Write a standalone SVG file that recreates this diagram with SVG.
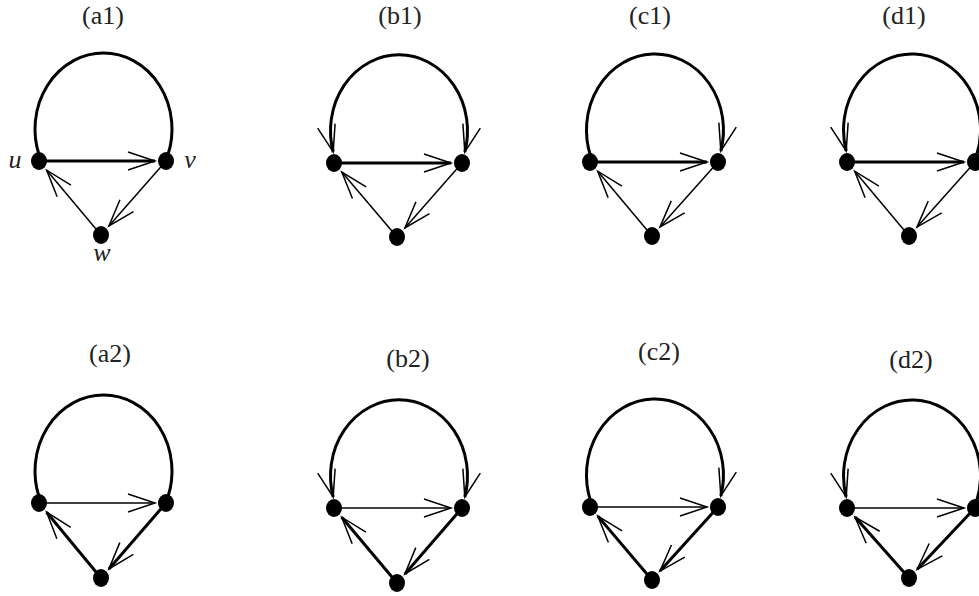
<svg xmlns="http://www.w3.org/2000/svg" width="979" height="596" viewBox="0 0 979 596">
<style>
.title{font-family:"Liberation Serif","DejaVu Serif",serif;font-size:26px;fill:#222;text-anchor:middle}
.lbl{font-family:"Liberation Serif","DejaVu Serif",serif;font-size:26px;font-style:italic;fill:#222;text-anchor:middle}
.thick{stroke:#000;stroke-width:3;fill:none}
.thin{stroke:#000;stroke-width:1.5;fill:none}
.node{fill:#000}
.ah{marker-end:url(#arr)}
</style>
<defs>
<marker id="arr" markerUnits="userSpaceOnUse" orient="auto" refX="0" refY="0" markerWidth="40" markerHeight="40" overflow="visible">
<path d="M-27,-9 L0,0 L-27,9" fill="none" stroke="#000" stroke-width="1.5"/>
</marker>
<marker id="arrS" markerUnits="userSpaceOnUse" orient="auto" refX="0" refY="0" markerWidth="40" markerHeight="40" overflow="visible">
<path d="M27,-9 L0,0 L27,9" fill="none" stroke="#000" stroke-width="1.5"/>
</marker>
</defs>

<!-- titles -->
<text class="title" x="103" y="24">(a1)</text>
<text class="title" x="400" y="24">(b1)</text>
<text class="title" x="650" y="24">(c1)</text>
<text class="title" x="904" y="24">(d1)</text>
<text class="title" x="110" y="362">(a2)</text>
<text class="title" x="408" y="367">(b2)</text>
<text class="title" x="659" y="360">(c2)</text>
<text class="title" x="911" y="368">(d2)</text>

<g id="connectors">
<!-- a1 -->
<path class="thick" d="M39.1,155 A68.5,76 0 1 1 167.9,155"/>
<line class="thick ah" x1="39" y1="161" x2="155" y2="161"/>
<line class="thin ah" x1="166" y1="161" x2="108.9" y2="226"/>
<line class="thin ah" x1="101" y1="235" x2="46.7" y2="170.2"/>
<!-- b1 -->
<path class="thick" d="M333.2,152 A68.5,76 0 1 1 464.8,152" marker-start="url(#arrS)" marker-end="url(#arr)"/>
<line class="thick ah" x1="334" y1="163" x2="451" y2="163"/>
<line class="thin ah" x1="462" y1="163" x2="404.9" y2="228"/>
<line class="thin ah" x1="397" y1="237" x2="341.8" y2="172.1"/>
<!-- c1 -->
<path class="thick" d="M590.6,156 A68.5,76 0 1 1 720.8,151" marker-end="url(#arr)"/>
<line class="thick ah" x1="590" y1="162" x2="707" y2="162"/>
<line class="thin ah" x1="718" y1="162" x2="660" y2="227"/>
<line class="thin ah" x1="652" y1="236" x2="597.7" y2="171.2"/>
<!-- d1 -->
<path class="thick" d="M846.2,151 A68.5,76 0 1 1 976.4,156" marker-start="url(#arrS)"/>
<line class="thick ah" x1="847" y1="162" x2="964" y2="162"/>
<line class="thin ah" x1="975" y1="162" x2="917" y2="227.1"/>
<line class="thin ah" x1="909" y1="236" x2="854.7" y2="171.2"/>
<!-- a2 -->
<path class="thick" d="M39.1,497 A68.5,76 0 1 1 167.9,497"/>
<line class="thin ah" x1="39" y1="503" x2="155" y2="503"/>
<line class="thick ah" x1="166" y1="503" x2="108.9" y2="568.9"/>
<line class="thick ah" x1="101" y1="578" x2="46.6" y2="512.2"/>
<!-- b2 -->
<path class="thick" d="M333.2,497 A68.5,76 0 1 1 464.8,497" marker-start="url(#arrS)" marker-end="url(#arr)"/>
<line class="thin ah" x1="334" y1="508" x2="451" y2="508"/>
<line class="thick ah" x1="462" y1="508" x2="404.9" y2="573.9"/>
<line class="thick ah" x1="397" y1="583" x2="341.7" y2="517.2"/>
<!-- c2 -->
<path class="thick" d="M590.6,501 A68.5,76 0 1 1 720.8,496" marker-end="url(#arr)"/>
<line class="thin ah" x1="590" y1="507" x2="707" y2="507"/>
<line class="thick ah" x1="718" y1="507" x2="660" y2="571.1"/>
<line class="thick ah" x1="652" y1="580" x2="597.8" y2="516.1"/>
<!-- d2 -->
<path class="thick" d="M846.2,497 A68.5,76 0 1 1 976.4,502" marker-start="url(#arrS)"/>
<line class="thin ah" x1="847" y1="508" x2="964" y2="508"/>
<line class="thick ah" x1="975" y1="508" x2="917.2" y2="569.3"/>
<line class="thick ah" x1="909" y1="578" x2="855" y2="517"/>
</g>

<!-- nodes -->
<g id="a1-u"><ellipse class="node" cx="39" cy="161" rx="8" ry="9"/><text class="lbl" x="15" y="168">u</text></g>
<g id="a1-v"><ellipse class="node" cx="166" cy="161" rx="8" ry="9"/><text class="lbl" x="190" y="168">v</text></g>
<g id="a1-w"><ellipse class="node" cx="101" cy="235" rx="8" ry="9"/><text class="lbl" x="102" y="261">w</text></g>

<g id="b1-u"><ellipse class="node" cx="334" cy="163" rx="8" ry="9"/></g>
<g id="b1-v"><ellipse class="node" cx="462" cy="163" rx="8" ry="9"/></g>
<g id="b1-w"><ellipse class="node" cx="397" cy="237" rx="8" ry="9"/></g>

<g id="c1-u"><ellipse class="node" cx="590" cy="162" rx="8" ry="9"/></g>
<g id="c1-v"><ellipse class="node" cx="718" cy="162" rx="8" ry="9"/></g>
<g id="c1-w"><ellipse class="node" cx="652" cy="236" rx="8" ry="9"/></g>

<g id="d1-u"><ellipse class="node" cx="847" cy="162" rx="8" ry="9"/></g>
<g id="d1-v"><ellipse class="node" cx="975" cy="162" rx="8" ry="9"/></g>
<g id="d1-w"><ellipse class="node" cx="909" cy="236" rx="8" ry="9"/></g>

<g id="a2-u"><ellipse class="node" cx="39" cy="503" rx="8" ry="9"/></g>
<g id="a2-v"><ellipse class="node" cx="166" cy="503" rx="8" ry="9"/></g>
<g id="a2-w"><ellipse class="node" cx="101" cy="578" rx="8" ry="9"/></g>

<g id="b2-u"><ellipse class="node" cx="334" cy="508" rx="8" ry="9"/></g>
<g id="b2-v"><ellipse class="node" cx="462" cy="508" rx="8" ry="9"/></g>
<g id="b2-w"><ellipse class="node" cx="397" cy="583" rx="8" ry="9"/></g>

<g id="c2-u"><ellipse class="node" cx="590" cy="507" rx="8" ry="9"/></g>
<g id="c2-v"><ellipse class="node" cx="718" cy="507" rx="8" ry="9"/></g>
<g id="c2-w"><ellipse class="node" cx="652" cy="580" rx="8" ry="9"/></g>

<g id="d2-u"><ellipse class="node" cx="847" cy="508" rx="8" ry="9"/></g>
<g id="d2-v"><ellipse class="node" cx="975" cy="508" rx="8" ry="9"/></g>
<g id="d2-w"><ellipse class="node" cx="909" cy="578" rx="8" ry="9"/></g>
</svg>
